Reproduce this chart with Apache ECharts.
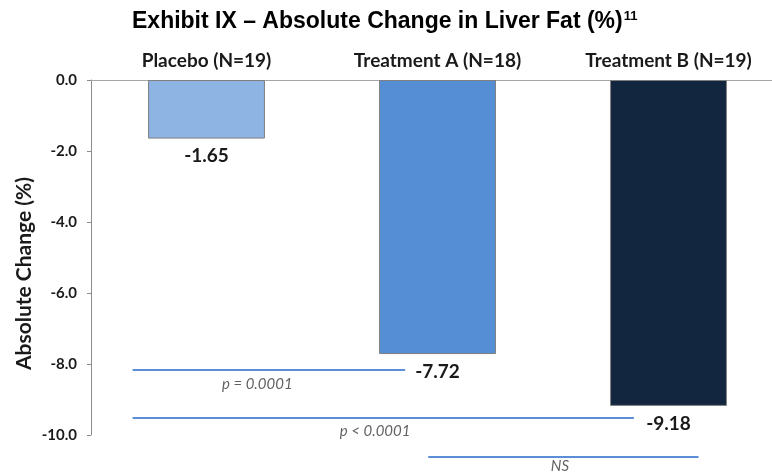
<!DOCTYPE html>
<html>
<head>
<meta charset="utf-8">
<script src="https://cdn.jsdelivr.net/npm/echarts@6/dist/echarts.min.js"></script>
<style>html,body{margin:0;padding:0;background:#fff}#c{width:772px;height:472px}</style>
</head>
<body>
<div id="c"></div>
<script>
var categories = ['Placebo (N=19)', 'Treatment A (N=18)', 'Treatment B (N=19)'];
var values = [-1.65, -7.72, -9.18];
var barColors = ['#8EB4E3', '#558ED5', '#13263F'];
var yTicks = [0, -2, -4, -6, -8, -10];
// significance brackets: [xStart, xEnd, y] in data units (x in category-width units)
var sigLines = [[0.18, 1.36, -8.17], [0.18, 2.35, -9.52], [1.46, 2.63, -10.62]];
var sigLabels = [[0.72, -8.56, 'p = 0.0001'], [1.23, -9.9, 'p < 0.0001'], [2.03, -10.88, 'NS']];

var chart = echarts.init(document.getElementById('c'));
var series = [{
  type: 'bar',
  data: values.map(function (v, i) {
    return { value: v, itemStyle: { color: barColors[i] } };
  }),
  barWidth: '50.6%',
  itemStyle: { borderColor: '#7f7f7f', borderWidth: 1 },
  label: {
    show: true, position: 'bottom', distance: 8,
    fontFamily: 'Lato', fontWeight: 'bold', fontSize: 19, color: '#1a1a1a',
    formatter: function (p) { return p.value.toFixed(2); }
  },
  animation: false
}];
sigLines.forEach(function (l) {
  series.push({
    type: 'line', xAxisIndex: 1, yAxisIndex: 0, clip: false,
    data: [[l[0], l[2]], [l[1], l[2]]],
    symbol: 'none', lineStyle: { color: '#5B8ED6', width: 2 }, animation: false
  });
});
series.push({
  type: 'scatter', xAxisIndex: 1, yAxisIndex: 0, clip: false, symbolSize: 0,
  data: sigLabels.map(function (s) { return [s[0], s[1], s[2]]; }),
  label: {
    show: true, position: 'inside',
    fontFamily: 'Lato', fontStyle: 'italic', fontSize: 15, color: '#3a3a3a',
    formatter: function (p) { return p.value[2]; }
  },
  animation: false
});

chart.setOption({
  animation: false,
  title: {
    text: 'Exhibit IX – Absolute Change in Liver Fat (%){sup|11}',
    left: 127, top: 5,
    textStyle: {
      fontFamily: 'Liberation Sans', fontWeight: 'bold', fontSize: 23, color: '#000',
      rich: { sup: { fontFamily: 'Liberation Sans', fontWeight: 'bold', fontSize: 13, verticalAlign: 'top', padding: [0, 0, 10, 1], color: '#000' } }
    }
  },
  grid: { left: 91, right: -12, top: 80, bottom: 37, outerBoundsMode: 'none', containLabel: false },
  xAxis: [{
    type: 'category', data: categories, position: 'top',
    axisLine: { lineStyle: { color: '#a6a6a6', width: 1 } },
    axisTick: { show: false },
    axisLabel: { margin: 10, fontFamily: 'Lato', fontWeight: 'bold', fontSize: 19, color: '#1a1a1a' }
  }, {
    type: 'value', min: 0, max: 3, show: false
  }],
  yAxis: {
    type: 'value', min: -10, max: 0, interval: 2,
    name: 'Absolute Change (%)', nameLocation: 'middle', nameGap: 56, nameMoveOverlap: false,
    nameTextStyle: { fontFamily: 'Lato', fontWeight: 'bold', fontSize: 21, color: '#1a1a1a', padding: [0, 32, 0, 0] },
    axisLine: { show: true, lineStyle: { color: '#8c8c8c', width: 1 } },
    axisTick: { show: true, length: 4, lineStyle: { color: '#8c8c8c' } },
    splitLine: { show: false },
    axisLabel: {
      margin: 14, fontFamily: 'Lato', fontWeight: 'bold', fontSize: 15, color: '#1a1a1a',
      formatter: function (v) { return v.toFixed(1); }
    }
  },
  series: series
});
</script>
</body>
</html>
